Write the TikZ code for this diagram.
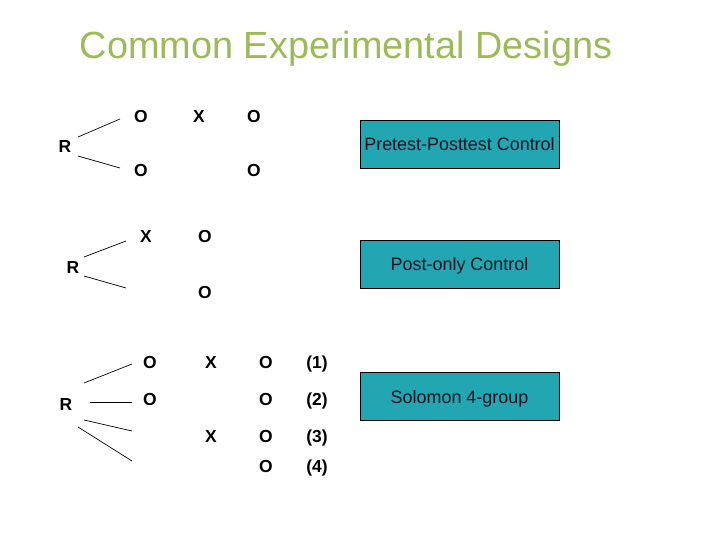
\documentclass[tikz,border=0pt]{standalone}
\usepackage{fontspec}
\setmainfont{Liberation Sans}
\definecolor{titlegreen}{RGB}{155,187,89}
\definecolor{boxteal}{RGB}{33,166,178}
\definecolor{boxtext}{RGB}{20,20,35}
\begin{document}
\begin{tikzpicture}[x=1bp,y=-1bp,
  lbl/.style={anchor=base,inner sep=0pt,font=\fontsize{17.5}{18}\selectfont\bfseries},
  designbox/.style={draw=black,line width=0.8bp,fill=boxteal,minimum width=199bp,minimum height=48bp,inner sep=0pt,text height=17bp,text depth=3bp,text=boxtext,font=\fontsize{18}{18}\selectfont},
  branch/.style={line width=0.7bp}]
\useasboundingbox (0,0) rectangle (720,540);
\node[anchor=base,inner sep=0pt,text=titlegreen,font=\fontsize{38}{40}\selectfont] (title) at (346,59) {Common Experimental Designs};
% group 1
\node[lbl] (r1) at (65,153) {R};
\node[lbl] (a11) at (141,123) {O};
\node[lbl] (a12) at (199,123) {X};
\node[lbl] (a13) at (254,123) {O};
\node[lbl] (a21) at (141,177) {O};
\node[lbl] (a23) at (254,177) {O};
\coordinate (g1a) at (78,137); \coordinate (g1b) at (120,119);
\coordinate (g1c) at (78,156); \coordinate (g1d) at (120,168);
\draw[branch] (g1a) -- (g1b);
\draw[branch] (g1c) -- (g1d);
\node[designbox] (box1) at (459.5,144) {Pretest-Posttest Control};
% group 2
\node[lbl] (r2) at (73,274) {R};
\node[lbl] (b11) at (146,243) {X};
\node[lbl] (b12) at (205,243) {O};
\node[lbl] (b22) at (205,298) {O};
\coordinate (g2a) at (84,257); \coordinate (g2b) at (126,241);
\coordinate (g2c) at (84,276); \coordinate (g2d) at (126,288);
\draw[branch] (g2a) -- (g2b);
\draw[branch] (g2c) -- (g2d);
\node[designbox] (box2) at (459.5,264) {Post-only Control};
% group 3
\node[lbl] (r3) at (66,410) {R};
\node[lbl] (c11) at (150,368) {O};
\node[lbl] (c12) at (211,368) {X};
\node[lbl] (c13) at (266,368) {O};
\node[lbl] (c14) at (317,368) {(1)};
\node[lbl] (c21) at (150,405) {O};
\node[lbl] (c23) at (266,405) {O};
\node[lbl] (c24) at (317,405) {(2)};
\node[lbl] (c32) at (211,442) {X};
\node[lbl] (c33) at (266,442) {O};
\node[lbl] (c34) at (317,442) {(3)};
\node[lbl] (c43) at (266,472) {O};
\node[lbl] (c44) at (317,472) {(4)};
\coordinate (g3a) at (84,383); \coordinate (g3b) at (132,364);
\coordinate (g3c) at (90,402); \coordinate (g3d) at (132,402);
\coordinate (g3e) at (84,420); \coordinate (g3f) at (132,431);
\coordinate (g3g) at (78,427); \coordinate (g3h) at (132,461);
\draw[branch] (g3a) -- (g3b);
\draw[branch] (g3c) -- (g3d);
\draw[branch] (g3e) -- (g3f);
\draw[branch] (g3g) -- (g3h);
\node[designbox] (box3) at (459.5,396) {Solomon 4-group};
\end{tikzpicture}
\end{document}
